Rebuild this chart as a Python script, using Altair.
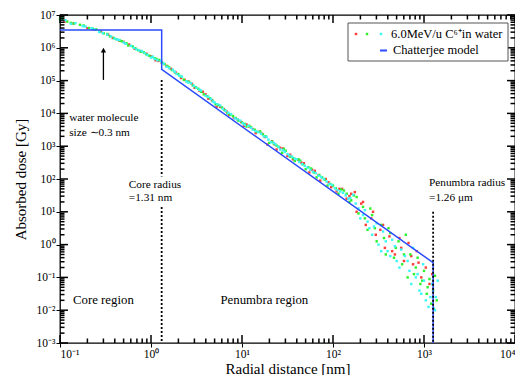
import altair as alt
import pandas as pd

# ---------------- data (log10 of radial distance [nm] and absorbed dose [Gy]) ----------------
red_log_r = [-0.95, -0.7, -0.55, -0.42, -0.3, -0.18, -0.05, 0.05, 0.12, 0.22, 0.33, 0.41, 0.48, 0.57,
             0.63, 0.72, 0.8, 0.86, 0.95, 1.02, 1.08, 1.15, 1.22, 1.28, 1.33, 1.38, 1.45, 1.5, 1.56,
             1.62, 1.68, 1.74, 1.8, 1.86, 1.92, 1.98, 2.04, 2.1, 2.15, 2.2, 2.26, 2.31, 2.36, 2.42,
             2.47, 2.52, 2.57, 2.62, 2.68, 2.73, 2.78, 2.83, 2.88, 2.92, 2.97, 3.02, 3.06, 3.09,
             -0.85, -0.62, -0.47, -0.35, -0.24, -0.12, 0.0, 0.08, 0.17, 0.27, 0.37, 0.45, 0.53, 0.6,
             0.67, 0.76, 0.83, 0.91, 0.99, 1.05, 1.12, 1.19, 1.25, 1.36, 1.42, 1.53, 1.65, 1.77, 1.84,
             1.95, 2.07, 2.18, 2.24, 2.33, 2.44, 2.55, 2.65, 2.75, 2.86, 2.94]
red_log_dose = [6.8, 6.6, 6.5, 6.3, 6.18, 5.97, 5.82, 5.62, 5.55, 5.36, 5.08, 4.97, 4.78, 4.66,
                4.45, 4.2, 4.13, 3.95, 3.82, 3.62, 3.6, 3.4, 3.38, 3.05, 3.15, 2.9, 2.93, 2.7, 2.6,
                2.58, 2.48, 2.2, 2.25, 1.95, 2.0, 1.75, 1.62, 1.7, 1.4, 1.55, 1.0, 1.25, 0.6, 0.8,
                0.3, 0.45, -0.1, 0.25, -0.3, 0.2, -0.5, 0.05, -0.6, -0.2, -1.0, -0.7, -1.2, -0.9,
                6.74, 6.55, 6.4, 6.22, 6.1, 5.9, 5.74, 5.6, 5.45, 5.25, 5.02, 4.9, 4.7, 4.58,
                4.4, 4.2, 4.06, 3.86, 3.74, 3.66, 3.52, 3.44, 3.28, 3.05, 2.95, 2.74, 2.5, 2.28, 2.12,
                1.9, 1.7, 1.48, 1.6, 1.3, 1.0, 0.6, -0.2, -0.1, -0.35, -0.55]

green_log_r = [-1.0, -0.92, -0.85, -0.78, -0.68, -0.6, -0.52, -0.45, -0.38, -0.32, -0.25, -0.2, -0.14,
               -0.08, -0.02, 0.04, 0.09, 0.15, 0.2, 0.26, 0.3, 0.36, 0.42, 0.46, 0.52, 0.58, 0.62, 0.68,
               0.74, 0.78, 0.84, 0.9, 0.96, 1.0, 1.05, 1.1, 1.16, 1.2, 1.26, 1.3, 1.35, 1.4, 1.44, 1.48,
               1.53, 1.58, 1.64, 1.7, 1.76, 1.82, 1.88, 1.94, 2.0, 2.06, 2.12, 2.18, 2.23, 2.28, 2.33,
               2.38, 2.43, 2.48, 2.53, 2.58, 2.63, 2.67, 2.72, 2.76, 2.8, 2.85, 2.89, 2.93, 2.96, 3.0,
               3.03, 3.06, 3.08, 3.1, 3.12,
               -0.97, -0.88, -0.74, -0.64, -0.56, -0.48, -0.41, -0.34, -0.27, -0.17, -0.11, -0.05, 0.01,
               0.06, 0.12, 0.18, 0.23, 0.33, 0.39, 0.49, 0.55, 0.65, 0.71, 0.81, 0.87, 0.93, 1.03, 1.08,
               1.14, 1.23, 1.33, 1.38, 1.46, 1.56, 1.62, 1.67, 1.73, 1.79, 1.85, 1.91, 1.97, 2.03, 2.09,
               2.15, 2.2, 2.26, 2.35, 2.41, 2.46, 2.56, 2.61, 2.69, 2.78, 2.82, 2.91, 2.98, 3.04, 3.14]
green_log_dose = [6.88, 6.8, 6.74, 6.7, 6.6, 6.56, 6.44, 6.35, 6.26, 6.2, 6.07, 6.04, 5.93,
                  5.86, 5.76, 5.68, 5.63, 5.5, 5.4, 5.26, 5.2, 5.03, 4.96, 4.85, 4.75, 4.58, 4.52, 4.38,
                  4.25, 4.18, 4.0, 3.92, 3.78, 3.72, 3.6, 3.58, 3.44, 3.45, 3.3, 3.1, 3.08, 2.98, 2.8, 2.86,
                  2.68, 2.55, 2.56, 2.3, 2.32, 2.05, 2.05, 1.8, 1.8, 1.55, 1.65, 1.3, 1.5, 0.95, 1.15,
                  0.45, 0.9, 0.1, 0.6, -0.3, 0.35, -0.4, 0.1, -0.6, 0.3, -0.3, -0.9, -0.4, -1.2, -0.8,
                  -1.5, -1.05, -1.8, -1.4, -0.95,
                  6.9, 6.76, 6.68, 6.58, 6.5, 6.42, 6.3, 6.22, 6.14, 5.98, 5.88, 5.8, 5.72,
                  5.66, 5.55, 5.44, 5.32, 5.12, 4.98, 4.8, 4.66, 4.46, 4.28, 4.1, 3.96, 3.86, 3.68, 3.62,
                  3.5, 3.36, 3.14, 3.02, 2.92, 2.64, 2.6, 2.45, 2.36, 2.2, 2.12, 1.98, 1.85, 1.72, 1.68,
                  1.55, 1.35, 1.45, 0.8, 1.1, 0.5, 0.2, 0.5, -0.1, -0.3, -1.0, -0.7, -1.1, -1.3, -1.7]

cyan_log_r = [-0.98, -0.88, -0.75, -0.65, -0.57, -0.48, -0.4, -0.35, -0.28, -0.22, -0.16, -0.1, -0.04,
              0.02, 0.07, 0.11, 0.17, 0.24, 0.28, 0.34, 0.39, 0.44, 0.5, 0.55, 0.6, 0.66, 0.7, 0.76,
              0.82, 0.88, 0.92, 0.98, 1.03, 1.07, 1.12, 1.18, 1.24, 1.27, 1.32, 1.37, 1.42, 1.47, 1.52,
              1.55, 1.6, 1.66, 1.72, 1.78, 1.84, 1.9, 1.96, 2.02, 2.08, 2.14, 2.19, 2.25, 2.3, 2.35,
              2.4, 2.45, 2.5, 2.55, 2.6, 2.65, 2.7, 2.75, 2.79, 2.84, 2.88, 2.91, 2.95, 2.99, 3.02,
              3.05, 3.09, 3.11, 3.13, 3.15,
              -0.94, -0.83, -0.72, -0.62, -0.53, -0.44, -0.37, -0.3, -0.19, -0.13, -0.07, 0.0, 0.04,
              0.14, 0.2, 0.26, 0.31, 0.41, 0.47, 0.53, 0.63, 0.68, 0.73, 0.79, 0.85, 0.95, 1.01, 1.1,
              1.15, 1.21, 1.29, 1.35, 1.4, 1.45, 1.5, 1.58, 1.63, 1.69, 1.75, 1.81, 1.87, 1.93, 1.99,
              2.05, 2.11, 2.17, 2.22, 2.28, 2.33, 2.38, 2.43, 2.48, 2.53, 2.58, 2.63, 2.68, 2.73, 2.82,
              2.86, 2.93, 2.97, 3.0, 3.07, 3.12]
cyan_log_dose = [6.86, 6.73, 6.66, 6.6, 6.48, 6.4, 6.28, 6.24, 6.12, 6.06, 5.95, 5.9, 5.78,
                 5.73, 5.62, 5.6, 5.42, 5.33, 5.2, 5.12, 4.98, 4.92, 4.78, 4.7, 4.54, 4.44, 4.33, 4.24,
                 4.08, 3.98, 3.85, 3.78, 3.65, 3.62, 3.5, 3.43, 3.3, 3.28, 3.12, 3.05, 2.9, 2.83, 2.72,
                 2.68, 2.6, 2.45, 2.35, 2.22, 2.1, 2.0, 1.85, 1.72, 1.62, 1.5, 1.42, 1.25, 0.8, 1.05,
                 0.5, 0.55, 0.0, 0.4, -0.2, 0.15, -0.5, -0.15, -0.35, -0.8, -0.1, -1.0, -1.4, -0.6, -1.7,
                 -1.9, -1.2, -1.95, -1.6, -1.1,
                 6.84, 6.75, 6.65, 6.56, 6.45, 6.35, 6.25, 6.16, 6.0, 5.92, 5.84, 5.7, 5.66,
                 5.52, 5.38, 5.27, 5.15, 4.94, 4.84, 4.72, 4.5, 4.36, 4.28, 4.14, 4.02, 3.82, 3.7, 3.56,
                 3.46, 3.38, 3.2, 3.1, 2.98, 2.88, 2.76, 2.62, 2.52, 2.4, 2.28, 2.18, 2.06, 1.92, 1.82,
                 1.66, 1.58, 1.4, 1.52, 1.1, 0.9, 0.7, 0.3, 0.65, -0.2, 0.1, -0.35, -0.05, -0.7, -0.5,
                 -1.2, -0.9, -1.5, -1.1, -1.6, -2.0]

series_names = ["red", "green", "cyan"]
series_colors = ["#ff3c3c", "#2df22d", "#3ef6f6"]

# Chatterjee model
model_r = [0.1, 1.31, 1.31, 1260, 1260]
model_dose = [3.5e6, 3.5e6, 2.2e5, 0.28, 1e-3]

# dashed radius markers
dash_r = [1.31, 1.31, 1260]
dash_top = [1.05e5, 14, 10]
dash_bottom = [120, 1e-3, 1e-3]

ann_text = ["water molecule", "size \u223c0.3 nm", "Core radius", "=1.31 nm", "Penumbra radius", "=1.26 \u03bcm"]
ann_r = [0.126, 0.126, 0.57, 0.57, 1135, 1135]
ann_dose = [7.2e3, 2.5e3, 66, 26, 76, 26]

region_text = ["Core region", "Penumbra region"]
region_r = [0.139, 5.8]
region_dose = [0.02, 0.02]

arrow_r = [0.3]
arrow_bottom = [1.05e5]
arrow_top = [8.5e5]

x_decades = [0.1, 1, 10, 100, 1000, 10000]
y_decades = [1e-3, 1e-2, 1e-1, 1, 10, 100, 1e3, 1e4, 1e5, 1e6, 1e7]
x_minor = [round(m * d, 6) for d in [0.1, 1, 10, 100, 1000] for m in range(2, 10)]
y_minor = [float("%.3g" % (m * d)) for d in [1e-3, 1e-2, 1e-1, 1, 10, 100, 1e3, 1e4, 1e5, 1e6] for m in range(2, 10)]

# ---------------- build tables ----------------
rows = []
for name, lr, ld in zip(series_names, [red_log_r, green_log_r, cyan_log_r],
                        [red_log_dose, green_log_dose, cyan_log_dose]):
    for a, b in zip(lr, ld):
        rows.append({"r": 10 ** a, "dose": 10 ** b, "series": name})
scatter_df = pd.DataFrame(rows)
model_df = pd.DataFrame({"r": model_r, "dose": model_dose, "i": list(range(len(model_r)))})
dash_df = pd.DataFrame({"r": dash_r, "dose": dash_top, "dose2": dash_bottom})
ann_df = pd.DataFrame({"r": ann_r, "dose": ann_dose, "t": ann_text})
region_df = pd.DataFrame({"r": region_r, "dose": region_dose, "t": region_text})
arrow_df = pd.DataFrame({"r": arrow_r, "dose": arrow_bottom, "dose2": arrow_top})

W, H = 455, 328
FONT = "Liberation Serif"
X_LO, X_HI = 0.1, 10000
Y_LO, Y_HI = 1e-3, 1e7
xscale = alt.Scale(type="log", domain=[X_LO, X_HI], nice=False)
yscale = alt.Scale(type="log", domain=[Y_LO, Y_HI], nice=False)

PX_PER_DEC_X = W / 5.0
PX_PER_DEC_Y = H / 10.0
MAJ, MIN = 8, 4.5

sup = ("replace(replace(replace(replace(replace(replace(replace(replace(replace(replace(replace("
       "'' + round(log(datum.value)/LN10),'-','\u207b'),'0','\u2070'),'1','\u00b9'),'2','\u00b2'),"
       "'3','\u00b3'),'4','\u2074'),'5','\u2075'),'6','\u2076'),'7','\u2077'),'8','\u2078'),'9','\u2079')")
label_expr = "'10' + " + sup

# label axes now also carry their own (standard) tick marks
x_lab = alt.Axis(orient="bottom", values=x_decades, labelExpr=label_expr, ticks=True, tickSize=4,
                 tickColor="black", tickWidth=1, domain=False,
                 grid=False, title="Radial distance [nm]", labelFont=FONT, labelFontSize=11.5,
                 labelColor="black", labelPadding=1, titleFont=FONT, titleFontSize=15,
                 titleFontWeight="normal", titleColor="black", titlePadding=2)
y_lab = alt.Axis(orient="left", values=y_decades, labelExpr=label_expr, ticks=True, tickSize=4,
                 tickColor="black", tickWidth=1, domain=False,
                 grid=False, title="Absorbed dose [Gy]", labelFont=FONT, labelFontSize=11.5,
                 labelColor="black", labelPadding=1, titleFont=FONT, titleFontSize=15,
                 titleFontWeight="normal", titleColor="black", titlePadding=8)

scatter = alt.Chart(scatter_df).mark_square(size=6, opacity=1).encode(
    x=alt.X("r:Q", scale=xscale, axis=x_lab),
    y=alt.Y("dose:Q", scale=yscale, axis=y_lab),
    color=alt.Color("series:N", scale=alt.Scale(domain=series_names, range=series_colors), legend=None),
)

model = alt.Chart(model_df).mark_line(color="#2a4bff", strokeWidth=1.5).encode(
    x=alt.X("r:Q", scale=xscale, axis=None),
    y=alt.Y("dose:Q", scale=yscale, axis=None),
    order="i:Q",
)

dashes = alt.Chart(dash_df).mark_rule(color="black", strokeWidth=1.8, strokeDash=[2, 2]).encode(
    x=alt.X("r:Q", scale=xscale, axis=None),
    y=alt.Y("dose:Q", scale=yscale, axis=None),
    y2="dose2:Q",
)

ann = alt.Chart(ann_df).mark_text(align="left", baseline="middle", font=FONT, fontSize=11.3,
                                  color="black").encode(
    x=alt.X("r:Q", scale=xscale, axis=None),
    y=alt.Y("dose:Q", scale=yscale, axis=None),
    text="t:N",
)

regions = alt.Chart(region_df).mark_text(align="left", baseline="middle", font=FONT, fontSize=12.8,
                                         color="black").encode(
    x=alt.X("r:Q", scale=xscale, axis=None),
    y=alt.Y("dose:Q", scale=yscale, axis=None),
    text="t:N",
)

arrow_shaft = alt.Chart(arrow_df).mark_rule(color="black", strokeWidth=1.3).encode(
    x=alt.X("r:Q", scale=xscale, axis=None),
    y=alt.Y("dose:Q", scale=yscale, axis=None),
    y2="dose2:Q",
)
arrow_head = alt.Chart(arrow_df).mark_point(shape="triangle-up", filled=True, size=28, color="black",
                                            opacity=1).encode(
    x=alt.X("r:Q", scale=xscale, axis=None),
    y=alt.Y("dose2:Q", scale=yscale, axis=None),
)


def x_tick_table(values, px):
    f = 10 ** (px / PX_PER_DEC_Y)
    bottom = pd.DataFrame({"r": values, "dose": Y_LO, "dose2": Y_LO * f})
    top = pd.DataFrame({"r": values, "dose": Y_HI, "dose2": Y_HI / f})
    return pd.concat([bottom, top], ignore_index=True)


def y_tick_table(values, px):
    f = 10 ** (px / PX_PER_DEC_X)
    left = pd.DataFrame({"dose": values, "r": X_LO, "r2": X_LO * f})
    right = pd.DataFrame({"dose": values, "r": X_HI, "r2": X_HI / f})
    return pd.concat([left, right], ignore_index=True)


xt_df = pd.concat([x_tick_table(x_decades, MAJ), x_tick_table(x_minor, MIN)], ignore_index=True)
yt_df = pd.concat([y_tick_table(y_decades, MAJ), y_tick_table(y_minor, MIN)], ignore_index=True)

x_ticks = alt.Chart(xt_df).mark_rule(color="black", strokeWidth=1.5, opacity=1).encode(
    x=alt.X("r:Q", scale=xscale, axis=None),
    y=alt.Y("dose:Q", scale=yscale, axis=None),
    y2="dose2:Q",
)
y_ticks = alt.Chart(yt_df).mark_rule(color="black", strokeWidth=1.5, opacity=1).encode(
    x=alt.X("r:Q", scale=xscale, axis=None),
    x2="r2:Q",
    y=alt.Y("dose:Q", scale=yscale, axis=None),
)

one = alt.Data(values=[{}])
leg_box = alt.Chart(one).mark_rect(fill="white", stroke="#555555", strokeWidth=1).encode(
    x=alt.value(288), x2=alt.value(448), y=alt.value(8), y2=alt.value(46))
leg_dots = [alt.Chart(one).mark_square(size=6, color=c, opacity=1).encode(x=alt.value(px), y=alt.value(19))
            for c, px in zip(series_colors, [296, 307, 321])]
leg_text1 = alt.Chart(one).mark_text(text="6.0MeV/u C\u2076\u207ain water", align="left", baseline="middle",
                                     font=FONT, fontSize=12.5, color="black").encode(
    x=alt.value(331), y=alt.value(19))
leg_line = alt.Chart(one).mark_rule(color="#2a4bff", strokeWidth=2).encode(
    x=alt.value(320), x2=alt.value(327), y=alt.value(35.5))
leg_text2 = alt.Chart(one).mark_text(text="Chatterjee model", align="left", baseline="middle",
                                     font=FONT, fontSize=12.5, color="black").encode(
    x=alt.value(333), y=alt.value(35))

chart = alt.layer(
    scatter, model, dashes, ann, regions, arrow_shaft, arrow_head, x_ticks, y_ticks,
    leg_box, *leg_dots, leg_text1, leg_line, leg_text2,
).resolve_axis(x="independent", y="independent").properties(
    width=W, height=H,
    autosize=alt.AutoSizeParams(type="none"),
    padding={"left": 52, "top": 7, "right": 0, "bottom": 32},
).configure_view(stroke="black", strokeWidth=1.3)

chart.save("out.html", embed_options={"renderer": "svg", "actions": False})
